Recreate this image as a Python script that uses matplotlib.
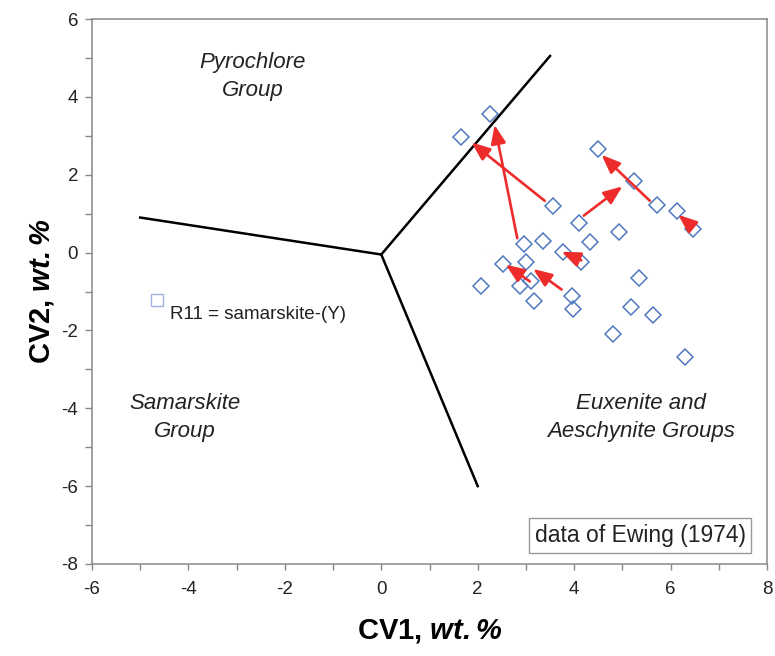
import numpy as np
import matplotlib
matplotlib.use("Agg")
import matplotlib.pyplot as plt
from matplotlib.ticker import MultipleLocator

plt.rcParams['font.family'] = ['Liberation Sans', 'DejaVu Sans']
plt.rcParams['axes.unicode_minus'] = False
plt.rcParams['mathtext.fontset'] = 'custom'
plt.rcParams['mathtext.bfit'] = 'Liberation Sans:italic:bold'
plt.rcParams['mathtext.it'] = 'Liberation Sans:italic'
plt.rcParams['mathtext.rm'] = 'Liberation Sans'

# Ewing (1974) samples, CV1 / CV2
cv1 = [2.25, 1.66, 3.56, 4.50, 5.24, 5.71, 6.14, 6.47, 4.10, 4.93,
       2.96, 3.36, 3.76, 4.33, 4.15, 2.53, 3.01, 3.10, 2.87, 2.06,
       5.35, 3.17, 3.95, 3.97, 5.18, 5.63, 4.81, 6.30]
cv2 = [3.57, 2.97, 1.20, 2.66, 1.83, 1.21, 1.08, 0.61, 0.76, 0.54,
       0.22, 0.29, 0.02, 0.26, -0.23, -0.29, -0.25, -0.74, -0.85, -0.85,
       -0.65, -1.25, -1.11, -1.44, -1.41, -1.61, -2.08, -2.68]

# reference sample R11
r11_x, r11_y = -4.65, -1.21

# field boundaries (from the junction outwards)
junction = (0.0, -0.05)
bound_ends_x = [-5.0, 3.5, 2.0]
bound_ends_y = [0.9, 5.05, -6.0]

# arrows: start -> end
arr_x0 = [3.39, 2.82, 4.20, 5.57, 6.40, 4.15, 3.08, 3.74]
arr_y0 = [1.33, 0.37, 0.95, 1.33, 0.72, -0.20, -0.74, -0.95]
arr_x1 = [1.87, 2.35, 5.00, 4.57, 6.16, 3.74, 2.58, 3.15]
arr_y1 = [2.83, 3.28, 1.70, 2.51, 0.97, 0.02, -0.31, -0.42]

fig = plt.figure(figsize=(7.75, 6.56), dpi=100)
ax = fig.add_axes([92/775, 1-564/656, (767-92)/775, (564-19)/656])

ax.plot(cv1, cv2, 'D', ms=8, mfc='none', mec='#4f79c0', mew=1.1, zorder=3)
ax.plot(r11_x, r11_y, 's', ms=8, mfc='none', mec='#9fb1de', mew=1.0, zorder=3)
ax.text(r11_x + 0.27, r11_y - 0.38, "R11 = samarskite-(Y)", fontsize=13.5,
        ha='left', va='center', color='#222222')

for ex, ey in zip(bound_ends_x, bound_ends_y):
    ax.plot([junction[0], ex], [junction[1], ey], color='black', lw=1.8, zorder=2)

for x0, y0, x1, y1 in zip(arr_x0, arr_y0, arr_x1, arr_y1):
    ax.annotate("", xy=(x1, y1), xytext=(x0, y0),
                arrowprops=dict(arrowstyle='-|>,head_length=0.75,head_width=0.3',
                                color='#ee2b2b', lw=1.9, mutation_scale=15,
                                shrinkA=0, shrinkB=0), zorder=4)

lab = dict(fontsize=16, style='italic', ha='center', va='center',
           color='#222222', linespacing=1.45)
ax.text(-2.67, 4.52, "Pyrochlore\nGroup", **lab)
ax.text(-4.07, -4.23, "Samarskite\nGroup", **lab)
ax.text(5.38, -4.23, "Euxenite and\nAeschynite Groups", **lab)

ax.text(5.37, -7.27, "data of Ewing (1974)", fontsize=16.5, ha='center', va='center',
        color='#222222',
        bbox=dict(boxstyle='square,pad=0.25', fc='white', ec='#999999', lw=1.0))

ax.set_xlim(-6, 8)
ax.set_ylim(-8, 6)
ax.xaxis.set_major_locator(MultipleLocator(2))
ax.xaxis.set_minor_locator(MultipleLocator(1))
ax.yaxis.set_major_locator(MultipleLocator(2))
ax.yaxis.set_minor_locator(MultipleLocator(1))
ax.tick_params(axis='x', which='both', direction='out', length=4, width=1,
               color='#888888', labelsize=13.5, labelcolor='#222222', pad=8)
ax.tick_params(axis='y', which='both', direction='out', length=5, width=1,
               color='#888888', labelsize=13.5, labelcolor='#222222', pad=5)
for s in ax.spines.values():
    s.set_color('#888888')
    s.set_linewidth(1.1)

ax.set_xlabel(r"CV1, $\mathbfit{wt.\%}$", fontsize=21, fontweight='bold', labelpad=14)
ax.set_ylabel(r"CV2, $\mathbfit{wt.\%}$", fontsize=21, fontweight='bold', labelpad=4)

fig.savefig("out.png", dpi=100)
